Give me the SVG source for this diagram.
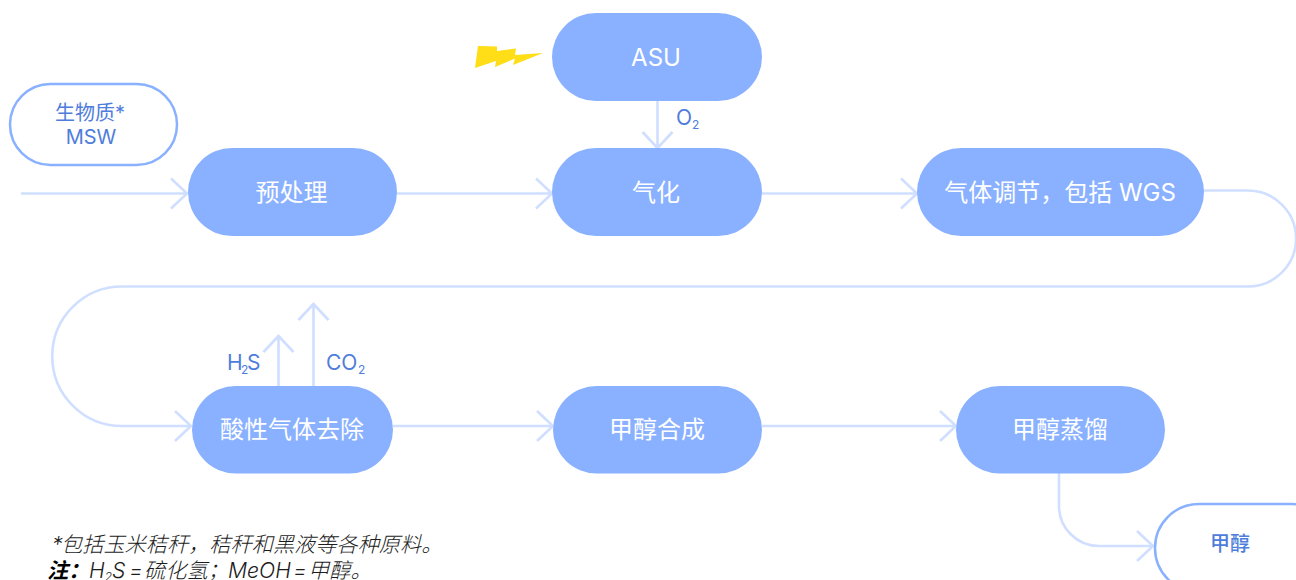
<svg xmlns="http://www.w3.org/2000/svg" width="1296" height="580" viewBox="0 0 1296 580">
<style>
text{font-family:"Inter","Noto Sans CJK SC",sans-serif}
.n{fill:#8ab1ff}
.o{fill:#fff;stroke:#8ab1ff;stroke-width:2.5}
.t{fill:#fff;font-size:24px;text-anchor:middle}
.b{fill:#4f7ddb;font-size:20px;text-anchor:middle}
.l{fill:#4f7ddb;font-size:21px}
.f{fill:#1c1c1c;font-size:21.200px;font-style:italic;font-weight:300}
.c path{fill:none;stroke:#d0dfff;stroke-width:2.6}
.s{font-size:12px}
</style>
<g id="connectors" class="c">
<path d="M21 193.500H186M171 178.500L187 193.500L171 208.500"/>
<path d="M397 193.500H551M536 178.500L552 193.500L536 208.500"/>
<path d="M762 193.500H916M901 178.500L917 193.500L901 208.500"/>
<path d="M657.500 101V147M642.500 132L657.500 148L672.500 132"/>
<path d="M1204 190.500H1248A48 48 0 0 1 1248 286.500H122A69.750 69.750 0 0 0 122 426H190M175 411L191 426L175 441"/>
<path d="M393 426H552M537 411L553 426L537 441"/>
<path d="M762 426H955M940 411L956 426L940 441"/>
<path d="M278.500 386V337M263.500 352L278.500 336L293.500 352"/>
<path d="M313.500 386V305M298.500 320L313.500 304L328.500 320"/>
<path d="M1059 473V506A40 40 0 0 0 1099 546H1153M1137 531L1153 546L1137 561"/>
</g>
<g id="lightning"><polygon points="478,46 497,46.500 497,51 516,48.500 515,55 543,53 513,65 515,58.500 495,67 496,61 475,68" fill="#ffdd17"/></g>
<g id="biomass"><rect class="o" x="10" y="84" width="167" height="81" rx="40.500"/><text class="b" x="90" y="120">生物质*</text><text class="b" x="91" y="144">MSW</text></g>
<g id="pretreatment"><rect class="n" x="188" y="148" width="209" height="88" rx="44"/><text class="t" x="291.500" y="201">预处理</text></g>
<g id="asu"><rect class="n" x="552" y="13" width="210" height="88" rx="44"/><text class="t" x="656" y="66">ASU</text></g>
<g id="o2"><text class="l" x="676" y="125">O<tspan class="s" dy="4">2</tspan></text></g>
<g id="gasification"><rect class="n" x="552" y="148" width="210" height="88" rx="44"/><text class="t" x="656" y="201">气化</text></g>
<g id="conditioning"><rect class="n" x="917" y="148" width="287" height="88" rx="44"/><text class="t" x="1060" y="201">气体调节，包括 WGS</text></g>
<g id="h2s"><text class="l" x="227" y="370">H<tspan class="s" x="241" dy="4">2</tspan><tspan x="247" dy="-4">S</tspan></text></g>
<g id="co2"><text class="l" x="326" y="370">CO<tspan class="s" x="358" dy="4">2</tspan></text></g>
<g id="agr"><rect class="n" x="192" y="386" width="201" height="87.500" rx="43.750"/><text class="t" x="292" y="438">酸性气体去除</text></g>
<g id="synthesis"><rect class="n" x="553" y="386" width="209" height="87.500" rx="43.750"/><text class="t" x="657" y="438">甲醇合成</text></g>
<g id="distillation"><rect class="n" x="956" y="386" width="209" height="87.500" rx="43.750"/><text class="t" x="1060" y="438">甲醇蒸馏</text></g>
<g id="methanol"><rect class="o" x="1155" y="504" width="180" height="88" rx="44"/><text class="b" x="1230" y="551" font-weight="500">甲醇</text></g>
<g id="notes"><text class="f" x="52" y="552">*<tspan x="61">包括玉米秸秆，秸秆和黑液等各种原料。</tspan></text>
<text class="f" x="47" y="578"><tspan font-weight="700" fill="#000">注：</tspan><tspan x="89">H</tspan><tspan class="s" dy="3">2</tspan><tspan dy="-3">S</tspan><tspan x="129">=</tspan><tspan x="144">硫化氢；</tspan><tspan x="228">MeOH</tspan><tspan x="293">=</tspan><tspan x="308">甲醇。</tspan></text></g>
</svg>
